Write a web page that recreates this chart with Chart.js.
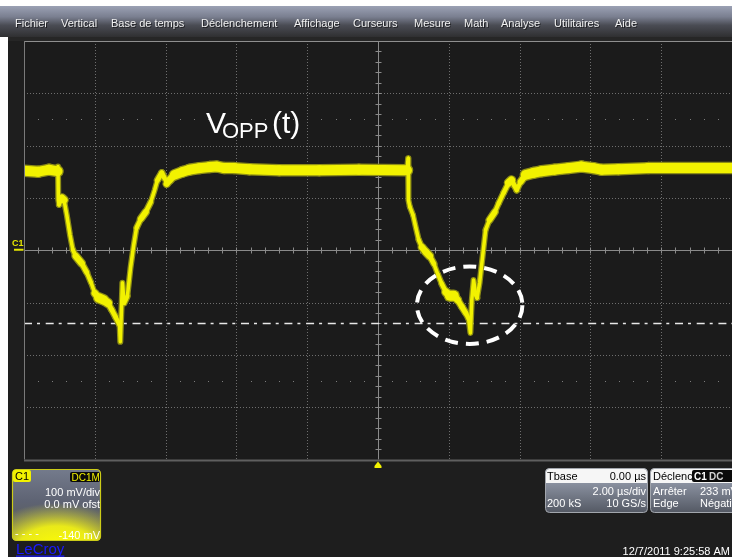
<!DOCTYPE html>
<html><head><meta charset="utf-8">
<script src="https://cdn.jsdelivr.net/npm/chart.js@4.4.1/dist/chart.umd.min.js"></script>
<style>html,body{margin:0;padding:0;background:#1e1e1e;overflow:hidden}#wrap{width:732px;height:557px;position:relative}canvas{display:block}</style>
</head><body><div id="wrap"><canvas id="c" width="732" height="557"></canvas></div>
<script>
// ---- data (time in µs, voltage in mV) ----
const timeUs = [-10.00,-9.60,-9.30,-9.05,-9.04,-9.03,-9.01,-8.93,-8.87,-8.79,-8.70,-8.62,-8.54,-8.37,-8.23,-8.11,-8.00,-7.89,-7.75,-7.63,-7.52,-7.41,-7.30,-7.28,-7.22,-7.17,-7.08,-6.99,-6.90,-6.82,-6.70,-6.56,-6.42,-6.31,-6.23,-6.11,-6.03,-5.97,-5.89,-5.75,-5.52,-5.32,-5.04,-4.76,-4.56,-4.34,-4.06,-3.63,-2.79,-1.66,-0.54,0.82,0.85,0.86,0.90,0.99,1.07,1.15,1.24,1.35,1.46,1.58,1.69,1.80,1.92,2.03,2.14,2.25,2.37,2.48,2.56,2.61,2.65,2.70,2.76,2.80,2.87,2.96,3.04,3.15,3.30,3.41,3.55,3.69,3.77,3.86,3.92,4.03,4.17,4.39,4.62,4.99,5.38,5.75,6.08,6.31,6.79,7.63,8.48,9.32,10.00];
const voltageMv = [152,150,154,151,160,96,87,100,96,67,29,1,-11,-25,-42,-61,-82,-91,-95,-101,-114,-128,-143,-175,-62,-101,-88,-33,10,43,60,73,92,115,134,148,138,127,134,144,150,154,157,159,160,157,157,155,153,153,154,153,176,96,83,67,43,20,6,-3,-11,-26,-46,-64,-80,-87,-87,-95,-108,-120,-131,-158,-95,-57,-85,-91,-62,-9,39,58,73,90,110,129,134,123,115,131,144,148,151,154,157,160,157,154,155,157,157,157,157];
const timeDivUs = [-10,-8,-6,-4,-2,0,2,4,6,8,10];
const voltDivMv = [-400,-300,-200,-100,0,100,200,300,400];
const midRowMv = [250,-250];
const cursorMv = -140;
const highlight = {t:2.59, v:-105, dt:1.49, dv:74};
const menuItems = ['Fichier','Vertical','Base de temps','Déclenchement','Affichage','Curseurs','Mesure','Math','Analyse','Utilitaires','Aide'];
const menuX = [15,61,111,201,294,353,414,464,501,554,615];

const Y = '#f2f200';
const FONT = '"Liberation Sans", Arial, sans-serif';
const pts = timeUs.map((t,i)=>({x:t,y:voltageMv[i]}));
const slopeW = (base, add, min) => ctx => {
  const dx = ctx.p1.x-ctx.p0.x, dy = ctx.p1.y-ctx.p0.y;
  const L = Math.hypot(dx,dy)||1;
  return Math.max(min, base*Math.abs(dx)/L)+add;
};

const scope = {
  id:'scope',
  beforeDraw(chart){
    const c=chart.ctx, W=chart.width, H=chart.height, a=chart.chartArea;
    c.save();
    c.fillStyle='#1e1e1e'; c.fillRect(0,0,W,H);
    c.fillStyle='#ffffff'; c.fillRect(0,0,W,6);
    const g=c.createLinearGradient(0,6,0,37);
    g.addColorStop(0,'#9ba1b4'); g.addColorStop(0.35,'#7a7f90'); g.addColorStop(0.62,'#4a4c54'); g.addColorStop(1,'#2f2f31');
    c.fillStyle=g; c.fillRect(0,6,W,31);
    c.fillStyle='#262626'; c.fillRect(0,37,W,4);
    c.fillStyle='#ffffff'; c.fillRect(0,37,8,H-37);
    c.fillStyle='#1b1b1b'; c.fillRect(a.left,a.top,a.right-a.left,a.bottom-a.top);
    c.font='11px '+FONT; c.textBaseline='alphabetic'; c.textAlign='left';
    menuItems.forEach((m,i)=>{
      c.fillStyle='rgba(0,0,0,0.55)'; c.fillText(m,menuX[i]+1,28);
      c.fillStyle='#f0f0f0'; c.fillText(m,menuX[i],27);
    });
    c.restore();
  },
  beforeDatasetsDraw(chart){
    const c=chart.ctx, a=chart.chartArea, xs=chart.scales.x, ys=chart.scales.y;
    c.save();
    c.strokeStyle='#6e6e6e'; c.lineWidth=1; c.setLineDash([1,2]);
    timeDivUs.forEach(t=>{
      if(t===0) return;
      const x=Math.round(xs.getPixelForValue(t))+0.5;
      if(x<=a.left+1||x>=a.right-1) return;
      c.beginPath(); c.moveTo(x,a.top); c.lineTo(x,a.bottom); c.stroke();
    });
    voltDivMv.forEach(v=>{
      if(v===0) return;
      const y=Math.round(ys.getPixelForValue(v))+0.5;
      if(y<=a.top+1||y>=a.bottom-1) return;
      c.beginPath(); c.moveTo(a.left,y); c.lineTo(a.right,y); c.stroke();
    });
    c.setLineDash([]);
    c.fillStyle='#7c7c7c';
    midRowMv.forEach(v=>{
      const y=Math.round(ys.getPixelForValue(v));
      for(let k=-25;k<=25;k++){
        if(k%5===0) continue;
        const x=Math.round(xs.getPixelForValue(k*0.4));
        c.fillRect(x,y,1,1);
      }
    });
    const x0=Math.round(xs.getPixelForValue(0))+0.5, y0=Math.round(ys.getPixelForValue(0))+0.5;
    c.strokeStyle='#8a8a8a'; c.lineWidth=1;
    c.beginPath(); c.moveTo(x0,a.top); c.lineTo(x0,a.bottom); c.moveTo(a.left,y0); c.lineTo(a.right,y0); c.stroke();
    c.beginPath();
    for(let k=-20;k<=20;k++){ const y=Math.round(ys.getPixelForValue(k*20))+0.5; c.moveTo(x0-3,y); c.lineTo(x0+3,y); }
    for(let k=-25;k<=25;k++){ const x=Math.round(xs.getPixelForValue(k*0.4))+0.5; c.moveTo(x,y0-3); c.lineTo(x,y0+3); }
    c.stroke();
    const yc=ys.getPixelForValue(cursorMv);
    c.strokeStyle='#e8e8e8'; c.lineWidth=1.5; c.setLineDash([8,5,3,5.7]);
    c.beginPath(); c.moveTo(a.left,yc); c.lineTo(a.right,yc); c.stroke();
    c.restore();
  },
  afterDatasetsDraw(chart){
    const c=chart.ctx, a=chart.chartArea, xs=chart.scales.x, ys=chart.scales.y;
    c.save();
    const ex=xs.getPixelForValue(highlight.t), ey=ys.getPixelForValue(highlight.v);
    const rx=Math.abs(xs.getPixelForValue(highlight.t+highlight.dt)-ex), ry=Math.abs(ys.getPixelForValue(highlight.v+highlight.dv)-ey);
    c.strokeStyle='#ffffff'; c.lineWidth=4; c.setLineDash([13,8]);
    c.beginPath(); c.ellipse(ex,ey,rx,ry,0,0,Math.PI*2); c.stroke();
    c.setLineDash([]);
    c.strokeStyle='#8f8f8f'; c.lineWidth=1;
    c.beginPath(); c.moveTo(a.left,a.top+0.5); c.lineTo(chart.width,a.top+0.5); c.stroke();
    c.strokeStyle='#7a7a7a';
    c.beginPath(); c.moveTo(a.left+0.5,a.top); c.lineTo(a.left+0.5,a.bottom); c.stroke();
    c.fillStyle='#5f5f5f'; c.fillRect(a.left,a.bottom,chart.width-a.left,2);
    const xt=xs.getPixelForValue(0), yb=a.bottom+2;
    c.fillStyle=Y; c.beginPath();
    c.moveTo(xt,yb); c.lineTo(xt+3.5,yb+4.5); c.lineTo(xt+3.5,yb+6.5); c.lineTo(xt-3.5,yb+6.5); c.lineTo(xt-3.5,yb+4.5); c.closePath(); c.fill();
    const yg=ys.getPixelForValue(0);
    c.fillStyle='#e6e600'; c.font='bold 9px '+FONT; c.textAlign='left'; c.fillText('C1',12,yg-4);
    c.fillRect(14,yg-1.5,9.5,2);
    c.restore();
  },
  afterDraw(chart){
    const c=chart.ctx;
    c.save();
    c.textBaseline='alphabetic';
    c.fillStyle='#ffffff'; c.textAlign='left';
    c.font='30px '+FONT; c.fillText('V',206,133);
    c.font='22px '+FONT; c.fillText('OPP',222,137.5);
    c.font='30px '+FONT; c.fillText('(t)',272,133);

    // C1 panel
    c.save();
    c.beginPath(); c.roundRect(12.5,469.5,88,71,4); c.clip();
    let g=c.createLinearGradient(0,469,0,541);
    g.addColorStop(0,'#747b8c'); g.addColorStop(0.45,'#5e6373'); g.addColorStop(1,'#5a5b4c');
    c.fillStyle=g; c.fillRect(12,469,90,73);
    c.translate(57,549); c.scale(1.7,1);
    const rg=c.createRadialGradient(0,0,0,0,0,46);
    rg.addColorStop(0,'rgba(255,255,0,1)'); rg.addColorStop(0.5,'rgba(245,245,20,0.92)'); rg.addColorStop(1,'rgba(220,220,60,0)');
    c.fillStyle=rg; c.fillRect(-40,-80,80,80);
    c.restore();
    c.strokeStyle='#cccc18'; c.lineWidth=1.2; c.beginPath(); c.roundRect(12.5,469.5,88,71,4); c.stroke();
    c.fillStyle=Y; c.beginPath(); c.roundRect(13,470,18,12,2); c.fill();
    c.fillStyle='#000'; c.font='11px '+FONT; c.fillText('C1',15,480);
    c.fillStyle='#0a0a0a'; c.beginPath(); c.roundRect(70,472,30,10,2); c.fill();
    c.fillStyle=Y; c.font='10px '+FONT; c.fillText('DC1M',71.5,481);
    c.fillStyle='#ffffff'; c.font='11px '+FONT; c.textAlign='right';
    c.fillText('100 mV/div',100,496); c.fillText('0.0 mV ofst',100,508); c.fillText('-140 mV',100,539);
    c.textAlign='left'; c.fillText('- - - -',15,537);

    const panel=(x,w)=>{
      c.save(); c.beginPath(); c.roundRect(x+0.5,468.5,w,44,4); c.clip();
      const pg=c.createLinearGradient(0,483,0,512);
      pg.addColorStop(0,'#8a91a0'); pg.addColorStop(1,'#555a65');
      c.fillStyle=pg; c.fillRect(x,468,w+2,46);
      c.fillStyle='#f6f6f6'; c.fillRect(x,468,w+2,15);
      c.restore();
      c.strokeStyle='#a2a6ad'; c.lineWidth=1; c.beginPath(); c.roundRect(x+0.5,468.5,w,44,4); c.stroke();
    };
    panel(545,102);
    panel(650,100);
    c.font='11px '+FONT;
    c.fillStyle='#000'; c.textAlign='left'; c.fillText('Tbase',547,480);
    c.textAlign='right'; c.fillText('0.00 µs',646,480);
    c.fillStyle='#ffffff'; c.fillText('2.00 µs/div',646,495); c.fillText('10 GS/s',646,507);
    c.textAlign='left'; c.fillText('200 kS',547,507);
    c.fillStyle='#000'; c.fillText('Déclench',653,480);
    c.fillStyle='#0a0a0a'; c.beginPath(); c.roundRect(692,470,45,12,2); c.fill();
    c.fillStyle='#ffffff'; c.font='bold 10px '+FONT; c.fillText('C1',694,480);
    c.fillStyle='#d0d0d0'; c.fillText('DC',709,480);
    c.font='11px '+FONT; c.fillStyle='#ffffff';
    c.fillText('Arrêter',653,495); c.fillText('233 mV',700,495);
    c.fillText('Edge',653,507); c.fillText('Négative',700,507);

    c.textAlign='right'; c.fillStyle='#ffffff'; c.font='11px '+FONT;
    c.fillText('12/7/2011 9:25:58 AM',730,555);
    c.textAlign='left'; c.fillStyle='#1a1aff'; c.font='15px '+FONT;
    c.fillText('LeCroy',16,554);
    const lw=c.measureText('LeCroy').width;
    c.fillRect(16,555.5,lw,1.2);
    c.restore();
  }
};

new Chart(document.getElementById('c'), {
  type:'line',
  data:{datasets:[
    {data:pts, borderColor:Y, borderWidth:10, segment:{borderWidth:slopeW(10,0,3.5)}, order:1, pointRadius:0, tension:0, borderJoinStyle:'round', borderCapStyle:'round', clip:0},
    {data:pts, borderColor:'#8e8e14', borderWidth:13, segment:{borderWidth:slopeW(10,2.5,3.5)}, order:2, pointRadius:0, tension:0, borderJoinStyle:'round', borderCapStyle:'round', clip:0}
  ]},
  options:{
    responsive:false, animation:false, devicePixelRatio:1, events:[],
    layout:{padding:{left:24,top:41,right:-2,bottom:97.5}},
    plugins:{legend:{display:false}, tooltip:{enabled:false}, title:{display:false}},
    scales:{
      x:{type:'linear', min:-10, max:10, display:false},
      y:{type:'linear', min:-400, max:400, display:false}
    }
  },
  plugins:[scope]
});
</script>
</body></html>
